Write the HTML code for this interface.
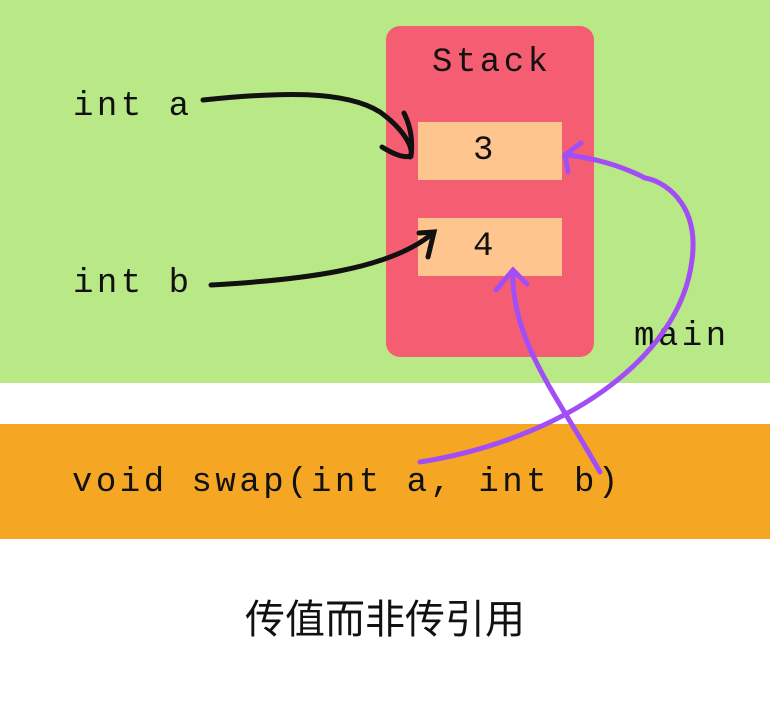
<!DOCTYPE html>
<html><head><meta charset="utf-8"><style>
body{margin:0;width:770px;height:710px;position:relative;background:#fff;overflow:hidden;font-family:"Liberation Mono",monospace}
div{position:absolute}
.t{font-size:34px;letter-spacing:3.5px;color:#111;line-height:1}
</style></head><body>
<div style="left:0;top:0;width:770px;height:383px;background:#b9e986"></div>
<div style="left:0;top:424px;width:770px;height:115px;background:#f5a623"></div>
<div style="left:386px;top:26px;width:208px;height:331px;background:#f55e72;border-radius:14px"></div>
<div style="left:418px;top:122px;width:144px;height:58px;background:#ffc58f"></div>
<div style="left:418px;top:218px;width:144px;height:58px;background:#ffc58f"></div>
<div class="t" style="left:432px;top:46px">Stack</div>
<div class="t" style="left:473px;top:134px">3</div>
<div class="t" style="left:473px;top:230px">4</div>
<div class="t" style="left:73px;top:90px">int a</div>
<div class="t" style="left:73px;top:267px">int b</div>
<div class="t" style="left:634px;top:320px">main</div>
<div class="t" style="left:72px;top:466px">void swap(int a, int b)</div>
<div style="left:0;top:600px;width:770px;text-align:center;font-family:'Liberation Sans','Noto Sans CJK SC',sans-serif;font-size:40px;color:#111;line-height:1">传值而非传引用</div>
<svg width="770" height="710" style="position:absolute;left:0;top:0" fill="none" stroke-linecap="round">
<g stroke="#111" stroke-width="5">
<path d="M203 100 C280 92 345 90 380 112 C405 130 415 150 410 157"/>
<path d="M382 147 C395 155 405 158 411 156 C413 140 410 125 404 113"/>
<path d="M211 285 C300 280 390 270 433 233"/>
<path d="M419 233 L434 232 L428 257"/>
</g>
<g stroke="#a24ef7" stroke-width="5">
<path d="M420 462 C560 440 680 360 692 260 C700 200 660 180 645 178 C620 165 590 157 565 155"/>
<path d="M581 143 L565 155 L568 172"/>
<path d="M600 472 C560 400 510 340 513 270"/>
<path d="M496 290 L513 270 L527 284"/>
</g>
</svg>
</body></html>
